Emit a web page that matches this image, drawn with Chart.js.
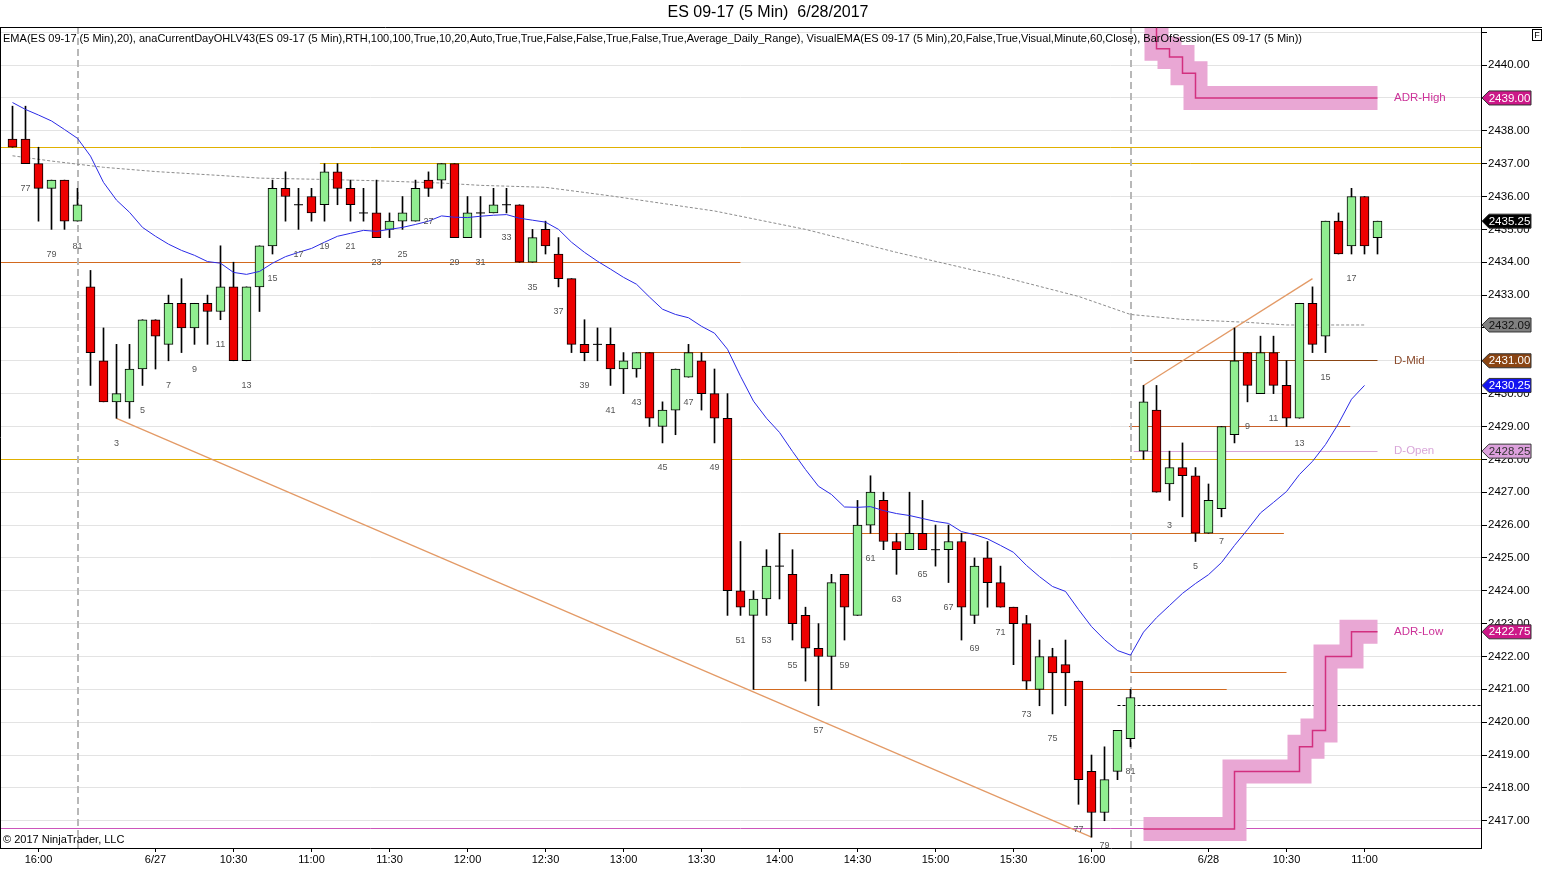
<!DOCTYPE html>
<html>
<head>
<meta charset="utf-8">
<script src="https://cdn.jsdelivr.net/npm/chart.js@4.4.1/dist/chart.umd.min.js"></script>
<style>
html, body { margin: 0; padding: 0; background: #fff; overflow: hidden; }
canvas { display: block; }
</style>
</head>
<body>
<canvas id="c" width="1542" height="893"></canvas>
<script>
const FONT = '"Liberation Sans", Arial, sans-serif';

// ===== data : bar index 0..105 (6 bars of 6/26, 81 bars of 6/27, 19 bars of 6/28) =====
const opens = [
  2437.75, 2437.75, 2437.0, 2436.25, 2436.5, 2435.25,
  2433.25, 2431.0, 2429.75, 2429.75, 2430.75, 2432.25, 2431.5, 2432.75, 2432.0, 2432.75,
  2432.5, 2433.25, 2431.0, 2433.25, 2434.5, 2436.25, 2435.75, 2436.0, 2435.75, 2436.75,
  2436.25, 2435.5, 2435.5, 2435.0, 2435.25, 2435.25, 2436.5, 2436.5, 2437.0, 2434.75,
  2435.5, 2435.5, 2435.75, 2435.75, 2434.0, 2435.0, 2434.25, 2433.5, 2431.5, 2431.5,
  2431.5, 2430.75, 2430.75, 2431.25, 2429.0, 2429.5, 2430.5, 2431.0, 2430.0, 2429.25,
  2424.0, 2423.25, 2423.75, 2424.75, 2424.5, 2423.25, 2422.25, 2422.0, 2424.5, 2423.25,
  2426.0, 2426.75, 2425.5, 2425.25, 2425.75, 2425.25, 2425.25, 2425.5, 2423.25, 2425.0,
  2424.25, 2423.5, 2423.0, 2421.0, 2422.0, 2421.75, 2421.25, 2418.5, 2417.25, 2418.5, 2419.5,
  2428.25, 2429.5, 2427.25, 2427.75, 2427.5, 2425.75, 2426.5, 2428.75, 2431.25, 2430.0,
  2431.25, 2430.25, 2429.25, 2432.75, 2431.75, 2435.25, 2434.5, 2436.0, 2434.75
];
const highs = [
  2438.75, 2438.75, 2437.5, 2436.5, 2436.5, 2436.25,
  2433.75, 2432.0, 2431.5, 2431.5, 2432.25, 2432.25, 2433.0, 2433.5, 2432.75, 2433.0,
  2434.5, 2434.0, 2433.25, 2434.5, 2436.5, 2436.75, 2436.25, 2436.25, 2437.0, 2437.0,
  2436.5, 2436.25, 2436.5, 2435.5, 2436.0, 2436.5, 2436.75, 2437.0, 2437.0, 2436.0,
  2436.0, 2436.25, 2436.25, 2435.75, 2435.0, 2435.25, 2434.75, 2433.5, 2432.25, 2432.0,
  2432.0, 2431.25, 2431.25, 2431.25, 2429.75, 2430.75, 2431.5, 2431.25, 2430.75, 2430.0,
  2425.5, 2424.0, 2425.25, 2425.75, 2425.25, 2423.5, 2423.0, 2424.5, 2424.5, 2426.75,
  2427.5, 2427.0, 2425.75, 2427.0, 2426.75, 2426.0, 2426.0, 2425.75, 2425.0, 2425.5,
  2424.75, 2423.5, 2423.25, 2422.5, 2422.25, 2422.5, 2421.25, 2419.0, 2419.25, 2419.75, 2421.0,
  2430.25, 2430.25, 2428.25, 2428.5, 2427.75, 2427.25, 2429.0, 2432.0, 2431.25, 2431.75,
  2431.75, 2431.0, 2432.75, 2433.25, 2435.25, 2435.5, 2436.25, 2436.0, 2435.25
];
const lows = [
  2437.5, 2437.0, 2435.25, 2435.0, 2435.0, 2435.25,
  2430.25, 2429.75, 2429.25, 2429.25, 2430.25, 2430.75, 2431.0, 2431.25, 2431.5, 2431.5,
  2432.25, 2431.0, 2431.0, 2432.5, 2434.25, 2435.25, 2435.0, 2435.25, 2435.25, 2435.75,
  2435.25, 2435.25, 2434.75, 2434.75, 2435.0, 2435.25, 2436.0, 2436.25, 2434.75, 2434.75,
  2434.75, 2435.5, 2435.5, 2434.0, 2434.0, 2434.25, 2433.25, 2431.25, 2431.0, 2431.0,
  2430.25, 2430.0, 2430.5, 2429.0, 2428.5, 2428.75, 2430.5, 2429.5, 2428.5, 2423.25,
  2423.25, 2421.0, 2423.25, 2423.75, 2422.5, 2421.25, 2420.5, 2421.0, 2422.5, 2423.25,
  2425.75, 2425.25, 2424.5, 2425.25, 2425.25, 2424.75, 2424.25, 2422.5, 2423.0, 2423.5,
  2423.5, 2421.75, 2421.0, 2420.5, 2420.25, 2420.5, 2417.5, 2416.5, 2417.0, 2418.25, 2419.25,
  2428.0, 2427.0, 2426.75, 2426.25, 2425.5, 2425.75, 2426.25, 2428.5, 2429.75, 2430.0,
  2430.0, 2429.0, 2429.25, 2431.25, 2431.25, 2434.25, 2434.25, 2434.25, 2434.25
];
const closes = [
  2437.5, 2437.0, 2436.25, 2436.5, 2435.25, 2435.75,
  2431.25, 2429.75, 2430.0, 2430.75, 2432.25, 2431.75, 2432.75, 2432.0, 2432.75, 2432.5,
  2433.25, 2431.0, 2433.25, 2434.5, 2436.25, 2436.0, 2435.75, 2435.5, 2436.75, 2436.25,
  2435.75, 2435.5, 2434.75, 2435.25, 2435.5, 2436.25, 2436.25, 2437.0, 2434.75, 2435.5,
  2435.5, 2435.75, 2435.75, 2434.0, 2434.75, 2434.5, 2433.5, 2431.5, 2431.25, 2431.5,
  2430.75, 2431.0, 2431.25, 2429.25, 2429.5, 2430.75, 2431.25, 2430.0, 2429.25, 2424.0,
  2423.5, 2423.75, 2424.75, 2424.75, 2423.0, 2422.25, 2422.0, 2424.25, 2423.5, 2426.0,
  2427.0, 2425.5, 2425.25, 2425.75, 2425.25, 2425.25, 2425.5, 2423.5, 2424.75, 2424.25,
  2423.5, 2423.0, 2421.25, 2422.0, 2421.5, 2421.5, 2418.25, 2417.25, 2418.25, 2419.75, 2420.75,
  2429.75, 2427.0, 2427.75, 2427.5, 2425.75, 2426.75, 2429.0, 2431.0, 2430.25, 2431.25,
  2430.25, 2429.25, 2432.75, 2431.5, 2435.25, 2434.25, 2436.0, 2434.5, 2435.25
];

// EMA(20), bars 0..104
const emaVals = [
  2438.86, 2438.65, 2438.48, 2438.30, 2438.04, 2437.77, 2437.23, 2436.43, 2435.89, 2435.52,
  2435.06, 2434.79, 2434.55, 2434.36, 2434.21, 2434.02, 2433.97, 2433.69, 2433.63, 2433.72,
  2433.97, 2434.17, 2434.30, 2434.42, 2434.61, 2434.79, 2434.88, 2434.97, 2434.94, 2435.00,
  2435.06, 2435.15, 2435.25, 2435.41, 2435.37, 2435.36, 2435.40, 2435.43, 2435.45, 2435.34,
  2435.28, 2435.22, 2435.00, 2434.61, 2434.30, 2434.03, 2433.79, 2433.54, 2433.33, 2432.94,
  2432.57, 2432.41, 2432.31, 2432.05, 2431.84, 2431.35, 2430.53, 2429.77, 2429.25, 2428.82,
  2428.24, 2427.69, 2427.18, 2426.93, 2426.55, 2426.54, 2426.56, 2426.44, 2426.35, 2426.29,
  2426.20, 2426.11, 2426.05, 2425.80, 2425.71, 2425.58, 2425.38, 2425.17, 2424.77, 2424.43,
  2424.13, 2423.98, 2423.43, 2422.91, 2422.51, 2422.18, 2422.04, 2422.74, 2423.18, 2423.55,
  2423.92, 2424.22, 2424.49, 2424.86, 2425.38, 2425.86, 2426.37, 2426.69, 2427.02, 2427.54,
  2427.94, 2428.45, 2429.09, 2429.83, 2430.25
];

// VisualEMA (60 min) grey dotted line, sampled
const grayIdx  = [0, 3, 7, 11, 16, 19, 24, 28, 33, 36, 41, 46, 54, 61, 68, 76, 82, 86, 90, 95, 98, 104];
const grayVals = [2437.24, 2437.08, 2436.89, 2436.76, 2436.64, 2436.56, 2436.52, 2436.48, 2436.41, 2436.34, 2436.28,
                  2436.02, 2435.56, 2435.0, 2434.30, 2433.57, 2432.96, 2432.41, 2432.26, 2432.17, 2432.09, 2432.09];

// ADR high / low steps (first high value lies above the visible range)
const adrHighIdx  = [87, 88, 89, 90, 91, 105];
const adrHighVals = [2442.0, 2440.5, 2440.25, 2439.75, 2439.0, 2439.0];
const adrLowIdx   = [87, 94, 99, 100, 101, 103, 105];
const adrLowVals  = [2416.75, 2418.5, 2419.25, 2419.75, 2422.0, 2422.75, 2422.75];

const dMid = 2431.0;
const dOpen = 2428.25;

// horizontal levels: price, from bar, to bar (null = chart edge)
const levelPrices = [2437.5, 2437.0, 2434.0, 2431.25, 2429.0, 2428.0, 2425.75, 2421.5, 2421.0, 2420.5, 2416.75];
const levelFrom   = [null, 23.65, null, 48.1, 85.9, null, 59, 86, 57, 85, null];
const levelTo     = [null, null, 56, 97.5, 102.9, null, 97.8, 98, 93.4, null, null];

// drawn trend lines
const trendA = [[8, 2429.25], [83, 2416.5]];
const trendB = [[87, 2430.25], [100, 2433.5]];

const sessionBreaks = [5, 86];

const tickIdx  = [2, 11, 17, 23, 29, 35, 41, 47, 53, 59, 65, 71, 77, 83, 92, 98, 104];
const tickText = ['16:00', '6/27', '10:30', '11:00', '11:30', '12:00', '12:30', '13:00', '13:30',
                  '14:00', '14:30', '15:00', '15:30', '16:00', '6/28', '10:30', '11:00'];

// bar of session numbers
const barNums = [];
for (let n = 76; n <= 81; n++) barNums.push(n);
for (let n = 1; n <= 81; n++) barNums.push(n);
for (let n = 1; n <= 19; n++) barNums.push(n);

// ===== styles =====
const GREEN = '#90ee90';
const RED = '#ee0000';
const levelColors = ['#e0b000', '#e0b000', '#d2691e', '#d2691e', '#c9602a', '#e0b000', '#d2691e', '#d2691e', '#d2691e', '#000000', '#cc55bb'];
const levelDash   = [null, null, null, null, null, null, null, null, null, [3, 2], null];

const idx = opens.map((_, i) => i);
const wickData = idx.map(i => ({ x: i, y: [lows[i], highs[i]] }));
const bodyIdx = idx.filter(i => opens[i] !== closes[i]);
const bodyData = bodyIdx.map(i => ({ x: i, y: [opens[i], closes[i]] }));
const bodyColors = bodyIdx.map(i => closes[i] > opens[i] ? GREEN : RED);
const dojiData = idx.filter(i => opens[i] === closes[i]).map(i => ({ x: i, y: closes[i] }));
const pts = (xs, ys) => xs.map((v, k) => ({ x: v, y: ys[k] }));
const rowOf = px => Math.round(px - 0.5) + 0.5;

function drawTag(ctx, py, text, bg, fg) {
  const l = 1482, r = 1531, h = 14;
  ctx.fillStyle = bg;
  ctx.beginPath();
  ctx.moveTo(l, py);
  ctx.lineTo(l + 7, py - h / 2);
  ctx.lineTo(r, py - h / 2);
  ctx.lineTo(r, py + h / 2);
  ctx.lineTo(l + 7, py + h / 2);
  ctx.closePath();
  ctx.fill();
  ctx.strokeStyle = '#333';
  ctx.lineWidth = 1;
  ctx.stroke();
  ctx.fillStyle = fg;
  ctx.font = '11.5px ' + FONT;
  ctx.textAlign = 'center';
  ctx.textBaseline = 'middle';
  ctx.fillText(text, (l + 6 + r) / 2, py + 0.5);
}

const overlay = {
  id: 'overlay',
  beforeDatasetsDraw(chart) {
    const { ctx, chartArea: a, scales: { x, y } } = chart;
    ctx.save();
    ctx.beginPath();
    ctx.rect(a.left, a.top, a.right - a.left, a.bottom - a.top);
    ctx.clip();
    levelPrices.forEach((p, k) => {
      const py = rowOf(y.getPixelForValue(p));
      const x0 = levelFrom[k] == null ? a.left : x.getPixelForValue(levelFrom[k]);
      const x1 = levelTo[k] == null ? a.right : x.getPixelForValue(levelTo[k]);
      ctx.strokeStyle = levelColors[k];
      ctx.lineWidth = 1;
      ctx.setLineDash(levelDash[k] || []);
      ctx.beginPath();
      ctx.moveTo(x0, py);
      ctx.lineTo(x1, py);
      ctx.stroke();
    });
    // D-Mid, D-Open
    ctx.setLineDash([]);
    [[dMid, '#8b4513'], [dOpen, '#d9a6d9']].forEach(([p, col]) => {
      const py = rowOf(y.getPixelForValue(p));
      ctx.strokeStyle = col;
      ctx.beginPath();
      ctx.moveTo(x.getPixelForValue(86.25), py);
      ctx.lineTo(x.getPixelForValue(105), py);
      ctx.stroke();
    });
    // session breaks
    ctx.setLineDash([7, 4]);
    ctx.strokeStyle = '#b8b8b8';
    ctx.lineWidth = 2;
    sessionBreaks.forEach(i => {
      const px = Math.round(x.getPixelForValue(i));
      ctx.beginPath();
      ctx.moveTo(px, a.top);
      ctx.lineTo(px, a.bottom);
      ctx.stroke();
    });
    ctx.restore();
  },
  afterDatasetsDraw(chart) {
    const { ctx, scales: { x, y } } = chart;
    ctx.save();
    // bar numbers
    ctx.font = '9px ' + FONT;
    ctx.fillStyle = '#555';
    ctx.textAlign = 'center';
    ctx.textBaseline = 'middle';
    barNums.forEach((n, i) => {
      if (n % 2 === 0 || n < 3 || i === barNums.length - 1) return;
      ctx.fillText(String(n), x.getPixelForValue(i), y.getPixelForValue(lows[i]) + 25);
    });
    // level names
    ctx.font = '11.5px ' + FONT;
    ctx.textAlign = 'left';
    const lx = 1394;
    ctx.fillStyle = '#cc3399';
    ctx.fillText('ADR-High', lx, y.getPixelForValue(adrHighVals[adrHighVals.length - 1]));
    ctx.fillText('ADR-Low', lx, y.getPixelForValue(adrLowVals[adrLowVals.length - 1]));
    ctx.fillStyle = '#8b4a2b';
    ctx.fillText('D-Mid', lx, y.getPixelForValue(dMid));
    ctx.fillStyle = '#d9a6d9';
    ctx.fillText('D-Open', lx, y.getPixelForValue(dOpen));
    // indicator list
    const info = 'EMA(ES 09-17 (5 Min),20), anaCurrentDayOHLV43(ES 09-17 (5 Min),RTH,100,100,True,10,20,Auto,True,True,False,False,True,False,True,Average_Daily_Range), VisualEMA(ES 09-17 (5 Min),20,False,True,Visual,Minute,60,Close), BarOfSession(ES 09-17 (5 Min))';
    ctx.font = '11px ' + FONT;
    ctx.fillStyle = '#000';
    const w = ctx.measureText(info).width;
    ctx.save();
    ctx.translate(3, 39);
    ctx.scale(1299 / w, 1);
    ctx.fillText(info, 0, 0);
    ctx.restore();
    ctx.fillText('\u00a9 2017 NinjaTrader, LLC', 3, 840);
    ctx.restore();
  },
  afterDraw(chart) {
    const { ctx, chartArea: a, scales: { y } } = chart;
    ctx.save();
    // frame
    ctx.strokeStyle = '#000';
    ctx.lineWidth = 1;
    ctx.beginPath();
    ctx.moveTo(0, 27.5); ctx.lineTo(1542, 27.5);
    ctx.moveTo(0.5, a.top); ctx.lineTo(0.5, a.bottom);
    ctx.stroke();
    // F box
    ctx.strokeRect(1532.5, 29.5, 9, 11);
    ctx.font = '9px ' + FONT;
    ctx.fillStyle = '#000';
    ctx.textAlign = 'center';
    ctx.textBaseline = 'middle';
    ctx.fillText('F', 1537, 35.5);
    // title
    ctx.font = '16px ' + FONT;
    ctx.fillText('ES 09-17 (5 Min)  6/28/2017', 768, 13);
    // price tags
    drawTag(ctx, y.getPixelForValue(adrHighVals[adrHighVals.length - 1]), adrHighVals[adrHighVals.length - 1].toFixed(2), '#cc1888', '#fff');
    drawTag(ctx, y.getPixelForValue(closes[closes.length - 1]), closes[closes.length - 1].toFixed(2), '#000', '#fff');
    drawTag(ctx, y.getPixelForValue(grayVals[grayVals.length - 1]), grayVals[grayVals.length - 1].toFixed(2), '#808080', '#111');
    drawTag(ctx, y.getPixelForValue(dMid), dMid.toFixed(2), '#8b4513', '#fff');
    drawTag(ctx, y.getPixelForValue(emaVals[emaVals.length - 1]), emaVals[emaVals.length - 1].toFixed(2), '#1414f0', '#fff');
    drawTag(ctx, y.getPixelForValue(dOpen), dOpen.toFixed(2), '#dda0dd', '#333');
    drawTag(ctx, y.getPixelForValue(adrLowVals[adrLowVals.length - 1]), adrLowVals[adrLowVals.length - 1].toFixed(2), '#cc1888', '#fff');
    ctx.restore();
  }
};

new Chart(document.getElementById('c'), {
  type: 'bar',
  data: {
    datasets: [
      { type: 'line', data: pts(adrHighIdx, adrHighVals), stepped: 'before', borderColor: '#d2307f', borderWidth: 1.5, pointRadius: 0, order: 1, clip: 0 },
      { type: 'line', data: pts(adrLowIdx, adrLowVals), stepped: 'before', borderColor: '#d2307f', borderWidth: 1.5, pointRadius: 0, order: 1, clip: 0 },
      { type: 'line', data: pts(idx.slice(0, emaVals.length), emaVals), borderColor: '#2a2ae6', borderWidth: 1, pointRadius: 0, tension: 0, order: 2 },
      { type: 'scatter', data: dojiData, pointStyle: 'line', pointRadius: 4.5, borderColor: '#000', borderWidth: 1, order: 3 },
      { data: bodyData, backgroundColor: bodyColors, borderColor: '#000', borderWidth: 1, borderSkipped: false, barThickness: 9, grouped: false, order: 4 },
      { data: wickData, backgroundColor: '#000', borderWidth: 0, barThickness: 1, grouped: false, order: 5 },
      { type: 'line', data: trendA, borderColor: '#e39a66', borderWidth: 1.3, pointRadius: 0, order: 7 },
      { type: 'line', data: trendB, borderColor: '#e39a66', borderWidth: 1.3, pointRadius: 0, order: 7 },
      { type: 'line', data: pts(grayIdx, grayVals), borderColor: '#8c8c8c', borderWidth: 1, borderDash: [3, 2], pointRadius: 0, order: 8 },
      { type: 'line', data: pts(adrHighIdx, adrHighVals), stepped: 'before', borderColor: '#e9a7d4', borderWidth: 24, borderJoinStyle: 'miter', borderCapStyle: 'butt', pointRadius: 0, order: 10, clip: 0 },
      { type: 'line', data: pts(adrLowIdx, adrLowVals), stepped: 'before', borderColor: '#e9a7d4', borderWidth: 24, borderJoinStyle: 'miter', borderCapStyle: 'butt', pointRadius: 0, order: 10, clip: 0 }
    ]
  },
  options: {
    responsive: false,
    animation: false,
    events: [],
    parsing: { xAxisKey: 'x', yAxisKey: 'y' },
    layout: { autoPadding: false, padding: { top: 27, left: 0, right: 0, bottom: 0 } },
    plugins: { legend: { display: false }, tooltip: { enabled: false }, title: { display: false } },
    scales: {
      x: {
        type: 'linear',
        min: -12.5 / 13,
        max: (1481 - 12.5) / 13,
        offset: false,
        afterFit: s => { s.height = 45; s.paddingLeft = 0; s.paddingRight = 0; },
        afterBuildTicks: s => { s.ticks = tickIdx.map(v => ({ value: v })); },
        grid: { drawOnChartArea: false, offset: false, tickLength: 4, tickColor: '#000' },
        border: { display: true, color: '#000' },
        ticks: {
          autoSkip: false, maxRotation: 0, padding: 1, color: '#000',
          font: { family: FONT, size: 11 },
          callback: (v, k) => tickText[k]
        }
      },
      y: {
        type: 'linear',
        position: 'right',
        min: 2416.17,
        max: 2441.16,
        afterFit: s => { s.width = 61; s.paddingTop = 0; s.paddingBottom = 0; },
        grid: { color: '#e3e3e3', tickColor: '#000', tickLength: 6 },
        border: { display: true, color: '#000' },
        ticks: {
          stepSize: 1, includeBounds: false, padding: 1, color: '#000',
          font: { family: FONT, size: 11.5 },
          callback: v => v > 2440.5 ? '' : Number(v).toFixed(2)
        }
      }
    }
  },
  plugins: [overlay]
});
</script>
</body>
</html>
